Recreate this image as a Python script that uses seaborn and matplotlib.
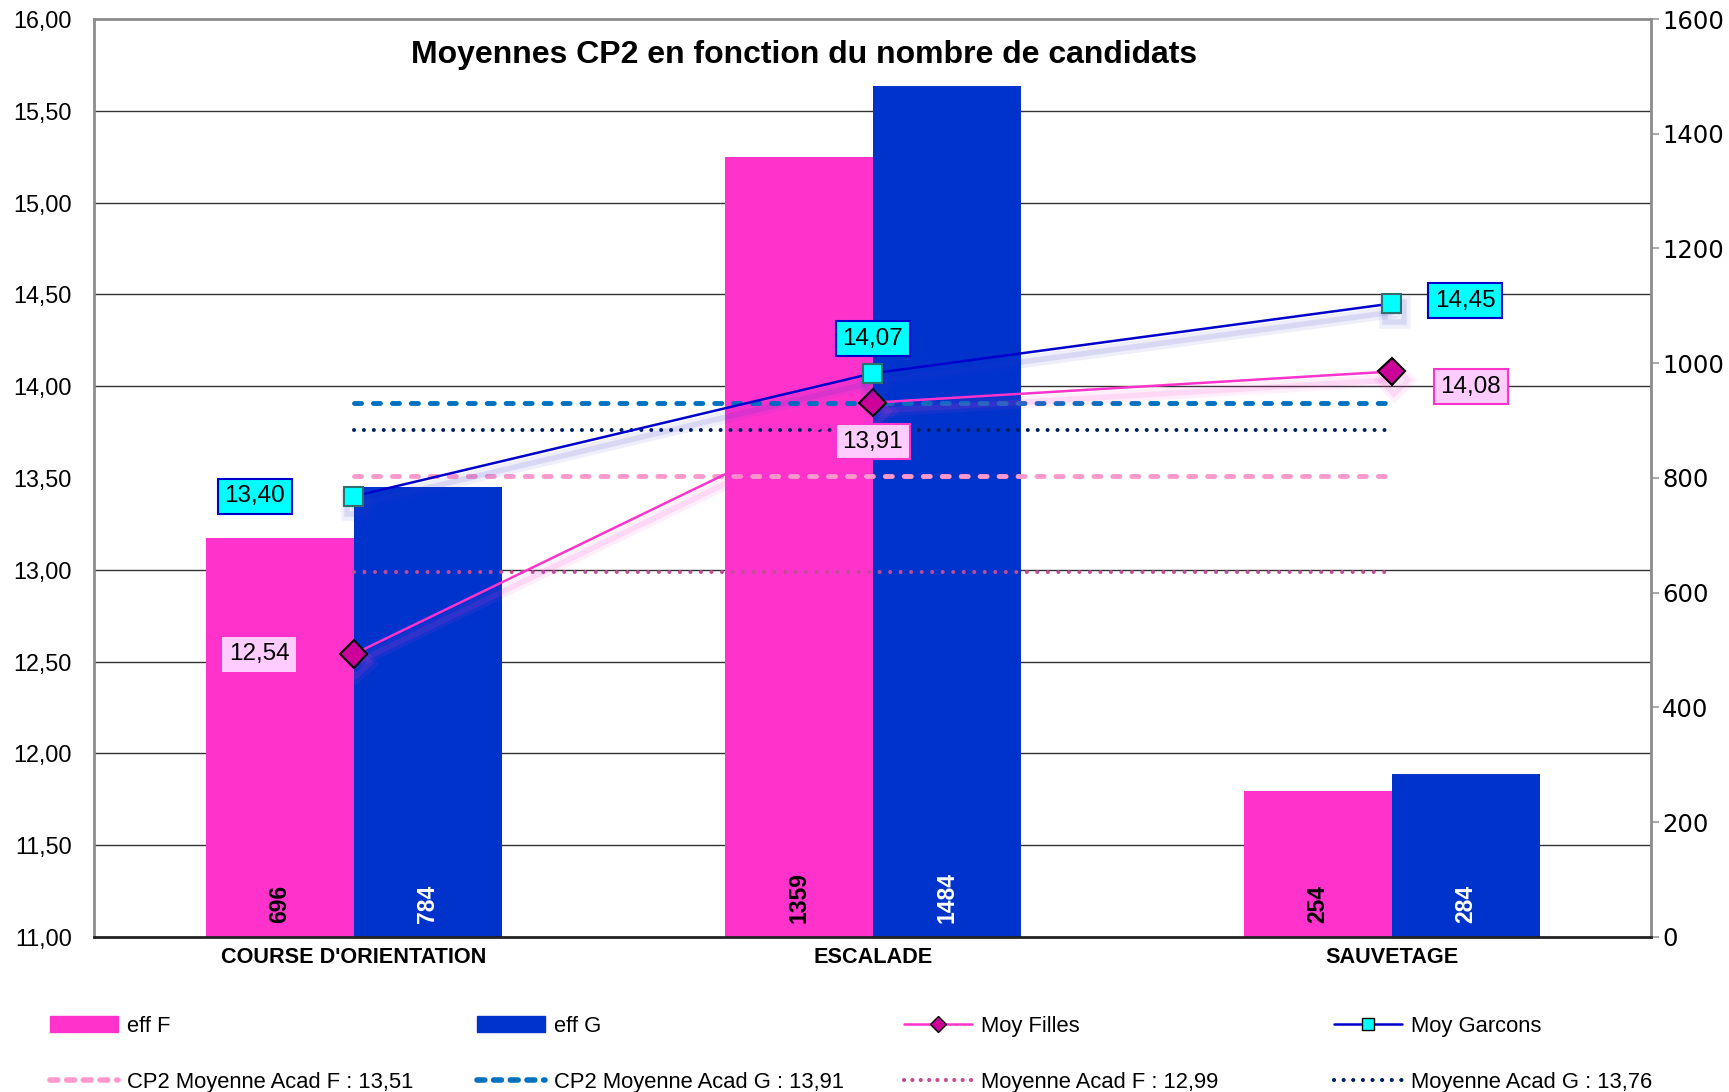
import numpy as np
import pandas as pd
import matplotlib
matplotlib.use("Agg")
import matplotlib.pyplot as plt
import matplotlib.patheffects as pe
import matplotlib.patches as mpatches
import matplotlib.lines as mlines
from matplotlib.ticker import FuncFormatter
import seaborn as sns

# data
categories = ["COURSE D'ORIENTATION", "ESCALADE", "SAUVETAGE"]
eff_f = [696, 1359, 254]
eff_g = [784, 1484, 284]
moy_filles = [12.54, 13.91, 14.08]
moy_garcons = [13.40, 14.07, 14.45]
cp2_acad_f = 13.51
cp2_acad_g = 13.91
moy_acad_f = 12.99
moy_acad_g = 13.76

PINK = '#ff33cc'
BLUE = '#0033cc'
LINE_BLUE = '#0000cc'
CP2_F_COL = '#ff99cc'
CP2_G_COL = '#0070c0'
ACAD_F_COL = '#c04c94'
ACAD_G_COL = '#002060'


def fmt_comma(v, pos=None):
    return f"{v:.2f}".replace('.', ',')


def main():
    sns.set_style('white')
    plt.rcParams['font.family'] = ['Liberation Sans', 'DejaVu Sans']
    plt.rcParams['text.color'] = 'black'
    plt.rcParams['xtick.color'] = 'black'
    plt.rcParams['ytick.color'] = 'black'

    fig = plt.figure(figsize=(17.29, 10.92), dpi=100)
    ax_bar = fig.add_axes([0.0544, 0.142, 0.9006, 0.8406])

    df = pd.DataFrame({
        'categorie': categories * 2,
        'serie': ['eff F'] * len(categories) + ['eff G'] * len(categories),
        'effectif': eff_f + eff_g,
    })
    sns.barplot(data=df, x='categorie', y='effectif', hue='serie',
                palette=[PINK, BLUE], width=0.57, gap=0, saturation=1,
                linewidth=0, ax=ax_bar, legend=False)
    ax_bar.set_xlim(-0.5, len(categories) - 0.5)
    ax_bar.set_ylim(0, 1600)
    ax_bar.set_xlabel('')
    ax_bar.set_ylabel('')

    # counts written at the foot of each bar
    for container, vals, col in zip(ax_bar.containers, [eff_f, eff_g], ['black', 'white']):
        for rect, v in zip(container, vals):
            ax_bar.annotate(str(v), (rect.get_x() + rect.get_width() / 2, 0),
                            xytext=(0, 10), textcoords='offset points',
                            rotation=90, ha='center', va='bottom',
                            fontsize=16.5, fontweight='bold', color=col)

    # left axis (averages) on a twin so its lines sit above the bars
    ax = ax_bar.twinx()
    ax.yaxis.tick_left()
    ax.set_ylim(11, 16)
    ax.set_yticks(np.arange(11, 16.01, 0.5))
    ax.yaxis.set_major_formatter(FuncFormatter(fmt_comma))
    ax.tick_params(axis='y', length=0, pad=16, labelsize=16.8)
    for s in ax.spines.values():
        s.set_visible(False)
    ax.grid(False)

    # right axis (counts)
    ax_bar.yaxis.tick_right()
    ax_bar.set_yticks(np.arange(0, 1601, 200))
    ax_bar.tick_params(axis='y', which='major', length=6, width=1.2, color='#999999',
                       pad=2, labelsize=17.5)
    for lbl in ax_bar.get_yticklabels():
        lbl.set_fontfamily('DejaVu Sans')
    ax_bar.tick_params(axis='x', length=0, pad=7, labelsize=15.6)
    for lbl in ax_bar.get_xticklabels():
        lbl.set_fontweight('bold')

    # gridlines follow the left scale (every 0,50) but sit behind the bars
    grid_vals = (np.arange(11, 16.01, 0.5) - 11) / 5 * 1600
    ax_bar.set_yticks(grid_vals, minor=True)
    ax_bar.tick_params(axis='y', which='minor', length=0)
    ax_bar.yaxis.grid(True, which='minor', color='#333333', linewidth=1)
    ax_bar.yaxis.grid(False, which='major')
    ax_bar.set_axisbelow(True)

    for side in ['left', 'right', 'top']:
        ax_bar.spines[side].set_color('#8c8c8c')
        ax_bar.spines[side].set_linewidth(2)
    ax_bar.spines['bottom'].set_color('#222222')
    ax_bar.spines['bottom'].set_linewidth(2)

    x_pos = np.arange(len(categories))
    x_ends = [x_pos[0], x_pos[-1]]

    ax.plot(x_ends, [moy_acad_f, moy_acad_f], color=ACAD_F_COL, lw=2.9,
            dashes=[0.01, 2.6], dash_capstyle='round')
    ax.plot(x_ends, [cp2_acad_f, cp2_acad_f], color=CP2_F_COL, lw=3.5,
            dashes=[1.45, 2.45], dash_capstyle='round')
    ax.plot(x_ends, [moy_acad_g, moy_acad_g], color=ACAD_G_COL, lw=2.9,
            dashes=[0.01, 2.45], dash_capstyle='round')
    ax.plot(x_ends, [cp2_acad_g, cp2_acad_g], color=CP2_G_COL, lw=3.5,
            dashes=[1.45, 2.45], dash_capstyle='round')

    shadow_f = [pe.SimpleLineShadow(offset=(2, -6), shadow_color=PINK, alpha=0.08, linewidth=9),
                pe.SimpleLineShadow(offset=(2, -6), shadow_color=PINK, alpha=0.12, linewidth=4),
                pe.Normal()]
    shadow_g = [pe.SimpleLineShadow(offset=(2, -6), shadow_color='#3333cc', alpha=0.08, linewidth=9),
                pe.SimpleLineShadow(offset=(2, -6), shadow_color='#3333cc', alpha=0.12, linewidth=4),
                pe.Normal()]

    ax.plot(x_pos, moy_filles, color=PINK, lw=1.8, marker='D', markersize=14,
            markerfacecolor='#cc0099', markeredgecolor='black', markeredgewidth=1.5,
            path_effects=shadow_f)
    ax.plot(x_pos, moy_garcons, color=LINE_BLUE, lw=1.8, marker='s', markersize=14,
            markerfacecolor='#00ffff', markeredgecolor='#2f6f6f', markeredgewidth=1.5,
            path_effects=shadow_g)

    # value labels
    off_g = [(-71, 0), (0, 25), (53, 2)]
    off_f = [(-68, 0), (0, -28), (57, -11)]
    edge_f = ['none', PINK, PINK]
    for xi, v, off in zip(x_pos, moy_garcons, off_g):
        ax.annotate(fmt_comma(v), (xi, v), xytext=off, textcoords='offset points',
                    ha='center', va='center', fontsize=17.5, zorder=10,
                    bbox=dict(boxstyle='square,pad=0.27', fc='#00ffff', ec=LINE_BLUE, lw=1.5))
    for xi, v, off, ec in zip(x_pos, moy_filles, off_f, edge_f):
        ax.annotate(fmt_comma(v), (xi, v), xytext=off, textcoords='offset points',
                    ha='center', va='center', fontsize=17.5, zorder=10,
                    bbox=dict(boxstyle='square,pad=0.27', fc='#ffccff', ec=ec, lw=1.5))

    ax.text(0.456, 0.961, 'Moyennes CP2 en fonction du nombre de candidats',
            transform=ax.transAxes, ha='center', va='center',
            fontsize=23, fontweight='bold')

    # legend: four columns of two entries
    h_eff_f = mpatches.Patch(color=PINK, label='eff F')
    h_eff_g = mpatches.Patch(color=BLUE, label='eff G')
    h_moy_f = mlines.Line2D([], [], color=PINK, lw=1.8, marker='D', markersize=8,
                            markerfacecolor='#cc0099', markeredgecolor='black',
                            label='Moy Filles')
    h_moy_g = mlines.Line2D([], [], color=LINE_BLUE, lw=1.8, marker='s', markersize=9,
                            markerfacecolor='#00ffff', markeredgecolor='black',
                            label='Moy Garcons')
    h_cp2_f = mlines.Line2D([], [], color=CP2_F_COL, lw=4, dashes=[1.4, 1.6],
                            dash_capstyle='round',
                            label='CP2 Moyenne Acad F : ' + fmt_comma(cp2_acad_f))
    h_cp2_g = mlines.Line2D([], [], color=CP2_G_COL, lw=4, dashes=[1.4, 1.6],
                            dash_capstyle='round',
                            label='CP2 Moyenne Acad G : ' + fmt_comma(cp2_acad_g))
    h_acad_f = mlines.Line2D([], [], color=ACAD_F_COL, lw=3, dashes=[0.01, 2.0],
                             dash_capstyle='round',
                             label='Moyenne Acad F : ' + fmt_comma(moy_acad_f))
    h_acad_g = mlines.Line2D([], [], color=ACAD_G_COL, lw=3, dashes=[0.01, 2.3],
                             dash_capstyle='round',
                             label='Moyenne Acad G : ' + fmt_comma(moy_acad_g))

    columns = [(h_eff_f, h_cp2_f), (h_eff_g, h_cp2_g), (h_moy_f, h_acad_f), (h_moy_g, h_acad_g)]
    col_x = [0.0289, 0.2759, 0.5228, 0.7715]
    for hs, cx in zip(columns, col_x):
        fig.legend(handles=list(hs), loc='center left', bbox_to_anchor=(cx, 0.0345),
                   frameon=False, fontsize=15.8, handlelength=3.1, handleheight=0.7,
                   handletextpad=0.4, labelspacing=1.6, borderpad=0, borderaxespad=0)

    fig.savefig('out.png', dpi=100)


if __name__ == "__main__":
    main()
